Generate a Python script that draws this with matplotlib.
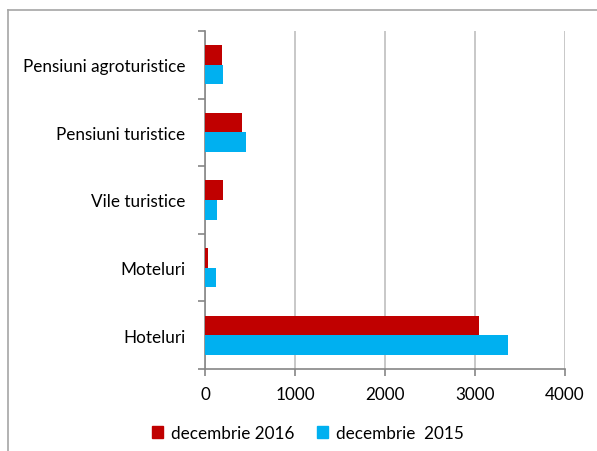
import matplotlib
matplotlib.use("Agg")
import matplotlib.pyplot as plt
from matplotlib.lines import Line2D
from matplotlib.patches import Patch
import numpy as np

categories = ["Hoteluri", "Moteluri", "Vile turistice", "Pensiuni turistice", "Pensiuni agroturistice"]
values_2016 = [3048, 30, 197, 411, 190]
values_2015 = [3367, 122, 137, 452, 198]
series_names = ["decembrie 2016", "decembrie  2015"]
x_ticks = [0, 1000, 2000, 3000, 4000]

plt.rcParams['font.family'] = ['Lato', 'DejaVu Sans']

W, H = 597, 452
fig = plt.figure(figsize=(W / 100, H / 100), dpi=100)

# outer border
fig.add_artist(Line2D([8 / W, 8 / W], [0, 1 - 11 / H], transform=fig.transFigure, color="#A6A6A6", lw=1.2))
fig.add_artist(Line2D([8 / W, 1], [1 - 11 / H, 1 - 11 / H], transform=fig.transFigure, color="#A6A6A6", lw=1.2))

left, right, top, bottom = 205, 565, 32, 370
ax = fig.add_axes([left / W, 1 - bottom / H, (right - left) / W, (bottom - top) / H])

y = np.arange(len(categories))
h = 0.289
ax.barh(y + h / 2, values_2016, height=h, color="#C00000", label=series_names[0], zorder=3)
ax.barh(y - h / 2, values_2015, height=h, color="#00B0F0", label=series_names[1], zorder=3)

ax.set_xlim(0, 4000)
ax.set_ylim(-0.5, len(categories) - 0.5)
ax.set_xticks(x_ticks)
ax.set_xticklabels([str(v) for v in x_ticks])
ax.set_yticks(y)
ax.set_yticklabels(categories)
ax.set_yticks(np.arange(len(categories) + 1) - 0.5, minor=True)

ax.grid(axis="x", color="#BFBFBF", lw=1.2, zorder=0)
for s in ["top", "right"]:
    ax.spines[s].set_visible(False)
for s in ["left", "bottom"]:
    ax.spines[s].set_color("#868686")
    ax.spines[s].set_linewidth(1.2)

fs = 12.3
ax.tick_params(axis="y", which="major", length=0, pad=14, labelsize=fs, labelcolor="#000000")
ax.tick_params(axis="y", which="minor", length=5, color="#868686", width=1.2)
ax.tick_params(axis="x", which="major", length=5, color="#868686", width=1.2, pad=7, labelsize=fs)

handles = [Patch(color="#C00000"), Patch(color="#00B0F0")]
fig.legend(handles, series_names, loc="center", bbox_to_anchor=(308 / W, 1 - 434 / H), ncol=2,
           frameon=False, fontsize=fs, handlelength=0.65, handleheight=0.65, handletextpad=0.5,
           columnspacing=1.3)

fig.savefig("out.png", dpi=100)
